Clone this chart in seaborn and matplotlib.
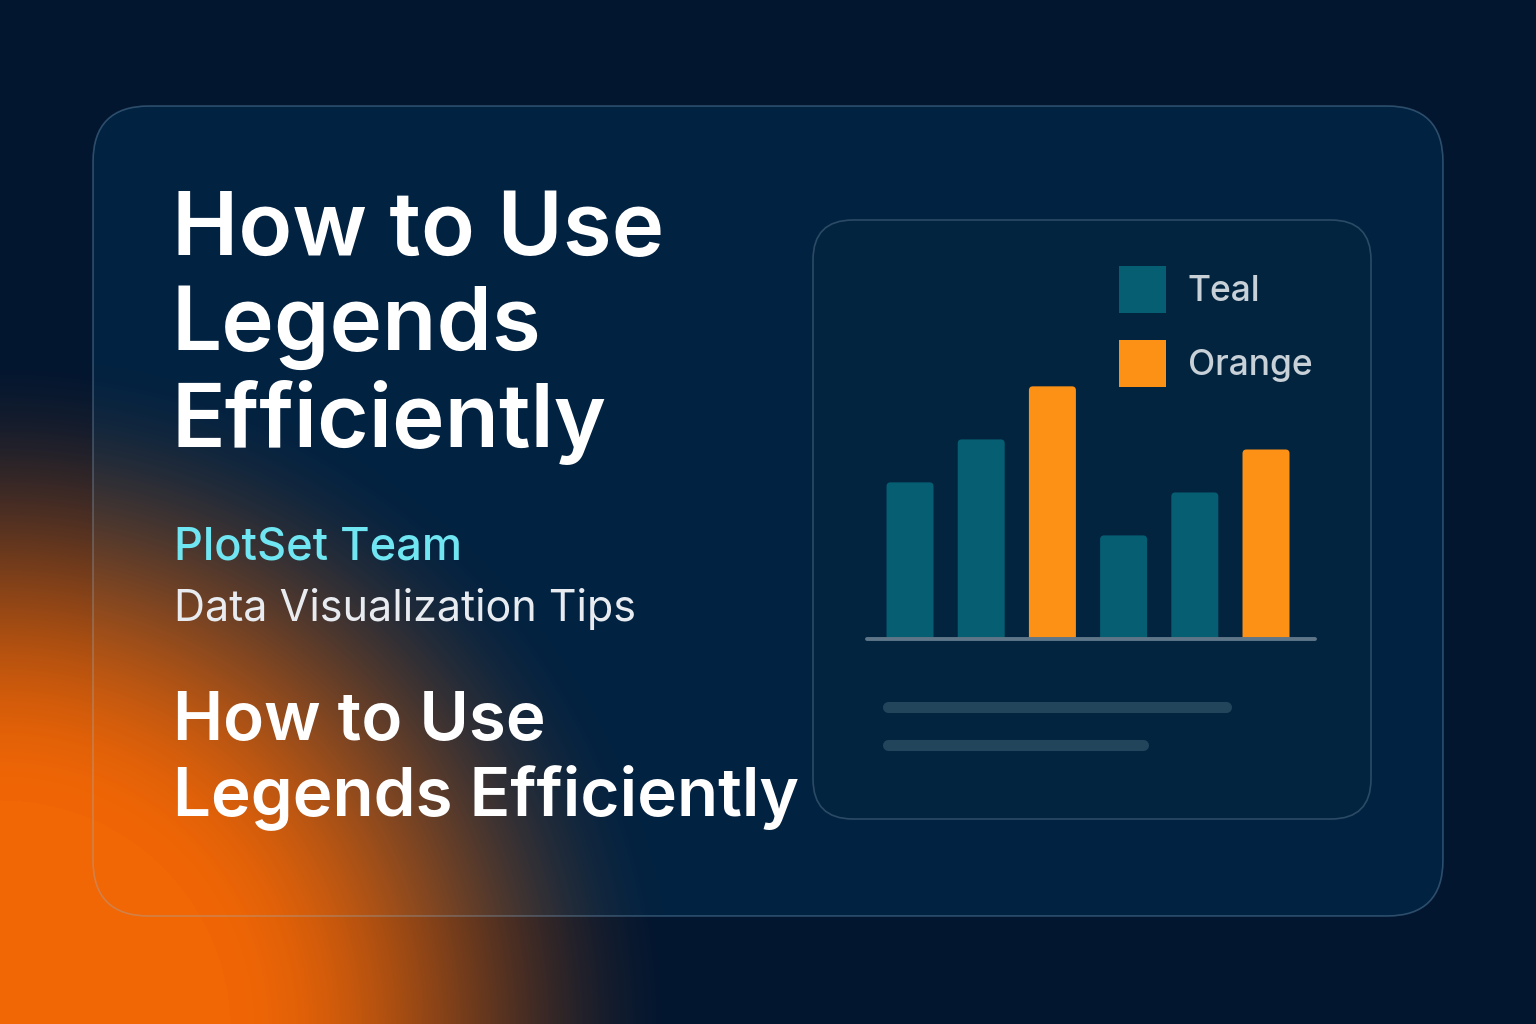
import numpy as np
import pandas as pd
import seaborn as sns
import matplotlib.pyplot as plt
from matplotlib.patches import FancyBboxPatch

# bar chart values (no axis labels in the reference, so slots are just numbered)
slots = ["1", "2", "3", "4", "5", "6"]
series = ["Teal", "Teal", "Orange", "Teal", "Teal", "Orange"]
values = [62, 79, 100, 41, 58, 75]

title_lines = ["How to Use", "Legends", "Efficiently"]
team_name = "PlotSet Team"
subtitle = "Data Visualization Tips"
title_lines_small = ["How to Use", "Legends Efficiently"]

palette = {"Teal": "#055e72", "Orange": "#fd9116"}
navy = "#021630"
font = "Inter"

W, H = 1536, 1024
sns.set_theme(style="white")
plt.rcParams["font.family"] = [font, "DejaVu Sans"]

fig = plt.figure(figsize=(W / 100, H / 100), dpi=100)
fig.patch.set_facecolor(navy)

# full-figure axes in pixel coordinates for the poster decoration
bg = fig.add_axes([0, 0, 1, 1])
bg.set_xlim(0, W)
bg.set_ylim(H, 0)
bg.axis("off")
bg.set_facecolor(navy)

# outer card
card = FancyBboxPatch((93, 106), 1350, 810, boxstyle="round,pad=0,rounding_size=56",
                      facecolor="#022241", edgecolor="none", zorder=1)
bg.add_patch(card)

# orange glow in the lower left corner
yy, xx = np.mgrid[0:H, 0:W]
d = np.hypot(xx - 0, yy - 1030)
t = np.clip((690 - d) / (690 - 230), 0, 1)
glow_a = t * t * (3 - 2 * t)
glow = np.zeros((H, W, 4))
glow[..., 0] = 241 / 255
glow[..., 1] = 102 / 255
glow[..., 2] = 5 / 255
glow[..., 3] = glow_a
bg.imshow(glow, extent=(0, W, H, 0), zorder=2, interpolation="bilinear")
bg.set_xlim(0, W)
bg.set_ylim(H, 0)

card_edge = FancyBboxPatch((93, 106), 1350, 810, boxstyle="round,pad=0,rounding_size=56",
                           facecolor="none", edgecolor="#8fbfe0", alpha=0.3,
                           linewidth=1.2, zorder=3)
bg.add_patch(card_edge)

# inner chart panel
panel = FancyBboxPatch((813, 220), 558, 599, boxstyle="round,pad=0,rounding_size=40",
                       facecolor="#03243f", edgecolor="#2b4a66", linewidth=1.2, zorder=4)
bg.add_patch(panel)

# placeholder caption lines under the chart
bg.plot([887.5, 1225.5], [707, 707], color="#23455c", lw=8, solid_capstyle="round", zorder=5)
bg.plot([887.5, 1142.5], [745, 745], color="#23455c", lw=8, solid_capstyle="round", zorder=5)

# headline text
for line, base in zip(title_lines, [255, 350, 447]):
    bg.text(172, base, line, color="white", fontsize=64, fontweight="semibold",
            va="baseline", ha="left", zorder=6)
bg.text(174, 560, team_name, color="#6fe6f2", fontsize=32.5, fontweight="medium",
        va="baseline", zorder=6)
bg.text(174, 621, subtitle, color="#e8ecf1", fontsize=31, va="baseline", zorder=6)
for line, base in zip(title_lines_small, [740, 815]):
    bg.text(173, base, line, color="white", fontsize=48.5, fontweight="semibold",
            va="baseline", ha="left", zorder=6)

# the bar chart itself
df = pd.DataFrame({"slot": slots, "series": series, "value": values})
ax = fig.add_axes([867 / W, 1 - 639 / H, 448 / W, 379 / H])
sns.barplot(data=df, x="slot", y="value", hue="series", palette=palette,
            hue_order=["Teal", "Orange"], dodge=False, width=0.66,
            saturation=1, linewidth=0, ax=ax)
ax.set_facecolor("none")
ax.set_xlim(-0.604, 5.688)
ax.set_ylim(0, 150)
ax.set_xticks([])
ax.set_yticks([])
ax.set_xlabel("")
ax.set_ylabel("")
for side in ["top", "left", "right"]:
    ax.spines[side].set_visible(False)
ax.spines["bottom"].set_color("#5f7688")
ax.spines["bottom"].set_linewidth(2.8)
ax.spines["bottom"].set_capstyle("round")
ax.spines["bottom"].set_zorder(5)

handles, labels = ax.get_legend_handles_labels()
leg = ax.legend(handles, labels, loc="upper left",
                bbox_to_anchor=(1119 / W, 1 - 266 / H), bbox_transform=fig.transFigure,
                frameon=False, fontsize=25.5, borderpad=0, borderaxespad=0,
                handlelength=1.32, handleheight=1.66, labelspacing=0.76,
                handletextpad=0.62)
for txt in leg.get_texts():
    txt.set_color("#c8d0d8")
    txt.set_fontweight("medium")

# give the bars slightly rounded tops, like the reference
px_x = 448 / (5.688 + 0.604)
px_y = 379 / 150
r = 4 / px_x
for bar in list(ax.patches):
    x0, w, h = bar.get_x(), bar.get_width(), bar.get_height()
    rounded = FancyBboxPatch((x0, -r * px_x / px_y), w, h + r * px_x / px_y,
                             boxstyle=f"round,pad=0,rounding_size={r}",
                             mutation_aspect=px_x / px_y,
                             facecolor=bar.get_facecolor(), edgecolor="none", zorder=2)
    ax.add_patch(rounded)
    bar.set_visible(False)

fig.savefig("out.png", dpi=100, facecolor=navy)
